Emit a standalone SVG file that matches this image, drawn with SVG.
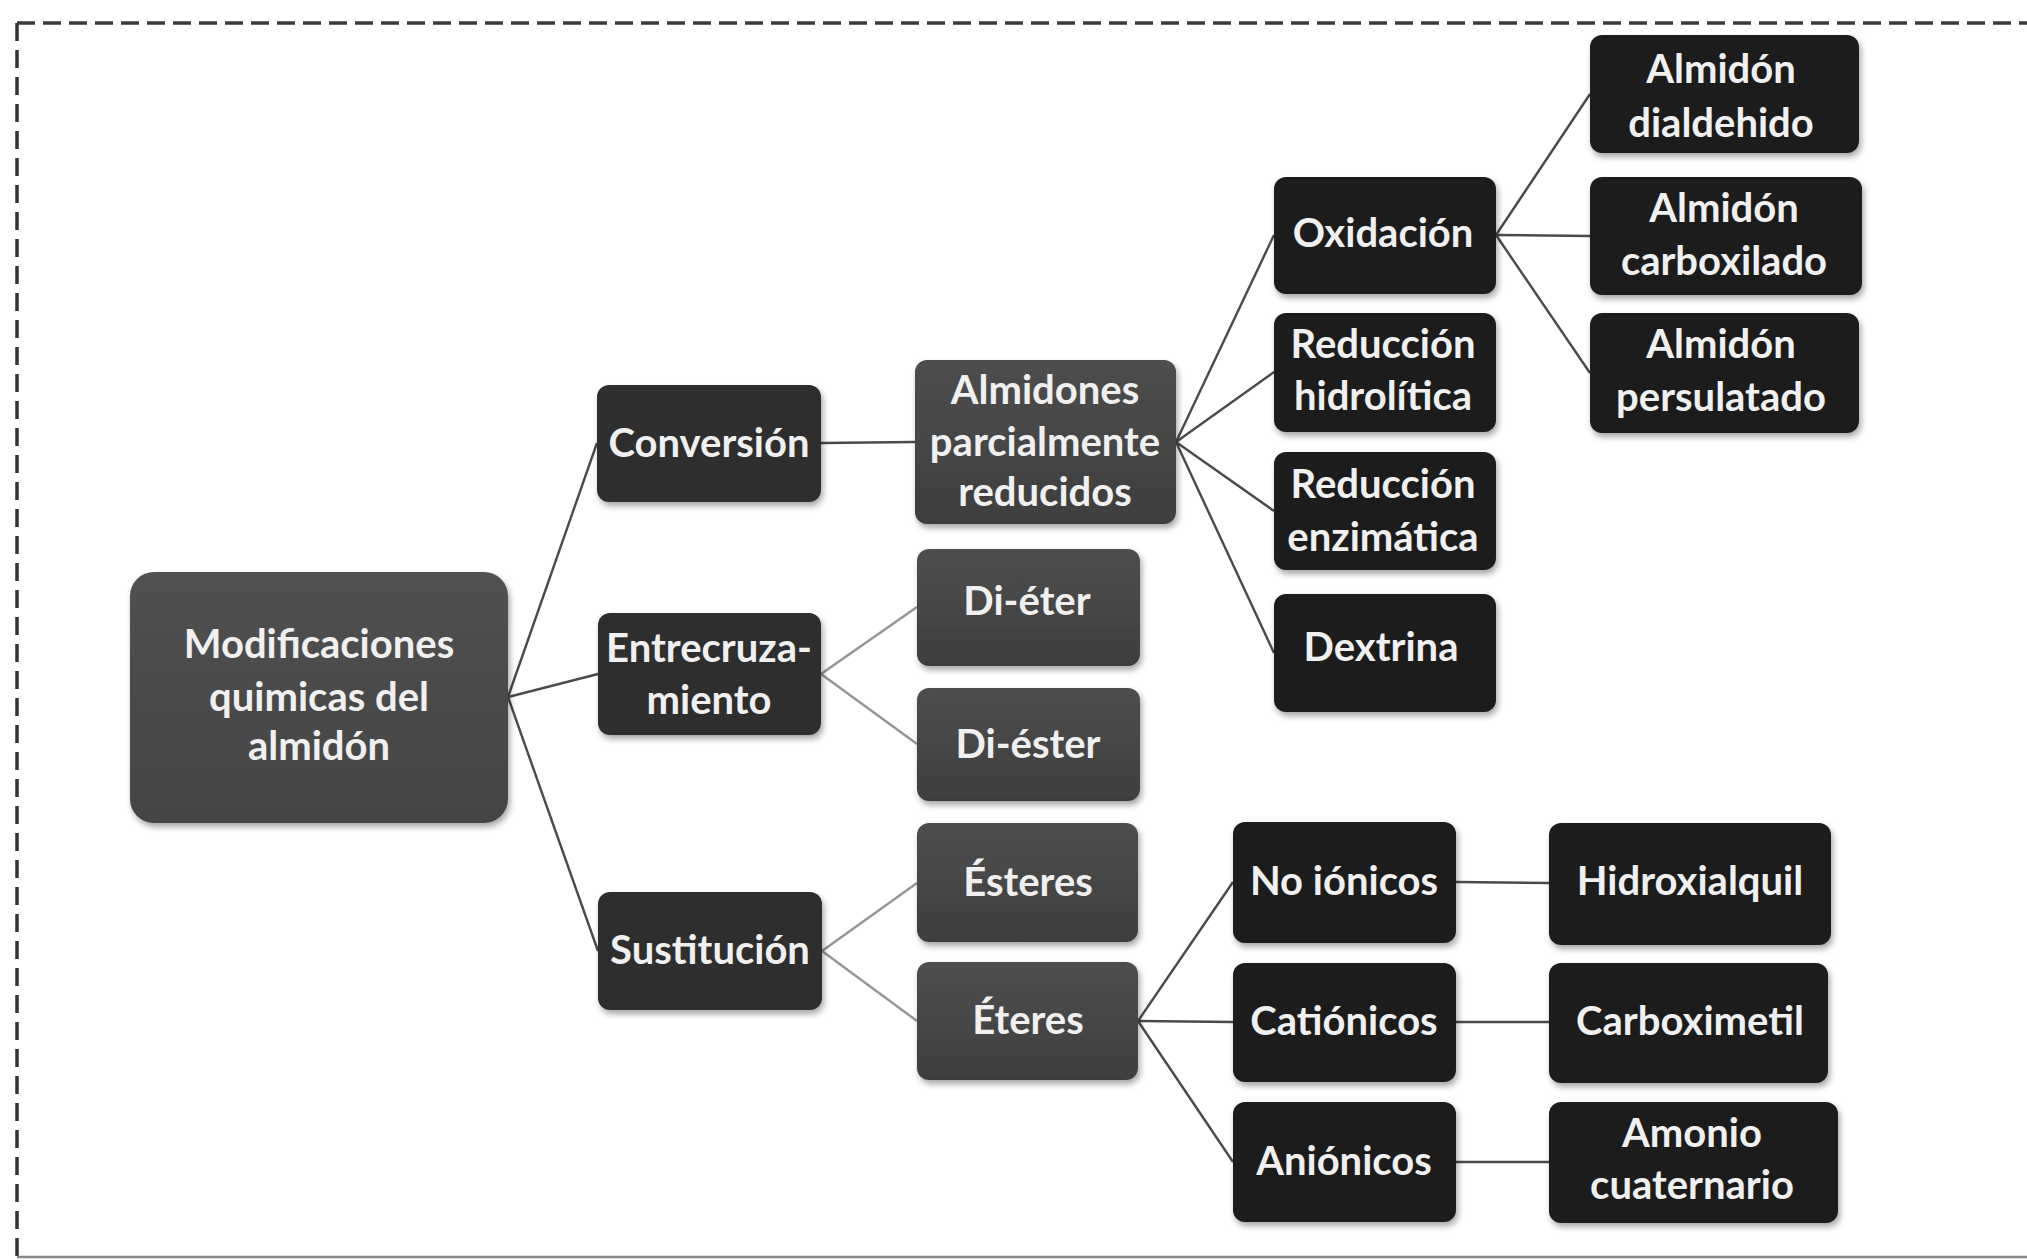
<svg xmlns="http://www.w3.org/2000/svg" width="2027" height="1260" viewBox="0 0 2027 1260">
<style>
  .n text { font-family: Lato, "Liberation Sans", sans-serif; font-size: 40px; font-weight: 700; fill: #f0f0f0; text-anchor: middle; }
  .n rect { filter: url(#sh); }
  .lv0 rect { fill: url(#gRoot); }
  .lv1 rect { fill: #2d2d2d; }
  .lv2 rect { fill: url(#gGray); }
  .lv3 rect { fill: #1b1b1b; }
  .c line { stroke: #4a4a4a; stroke-width: 2.4; }
  .c line.light { stroke: #959595; }
</style>
<defs>
  <filter id="sh" x="-10%" y="-10%" width="130%" height="130%">
    <feDropShadow dx="2" dy="4" stdDeviation="3" flood-color="#000" flood-opacity="0.35"/>
  </filter>
  <linearGradient id="gRoot" x1="0" y1="0" x2="0" y2="1">
    <stop offset="0" stop-color="#515151"/>
    <stop offset="1" stop-color="#444"/>
  </linearGradient>
  <linearGradient id="gGray" x1="0" y1="0" x2="0" y2="1">
    <stop offset="0" stop-color="#4e4e4e"/>
    <stop offset="1" stop-color="#3e3e3e"/>
  </linearGradient>
</defs>
<rect width="2027" height="1260" fill="#fff"/>
<g id="frame" fill="none">
  <line x1="17" y1="23" x2="2027" y2="23" stroke="#3a3a3a" stroke-width="3.5" stroke-dasharray="18 8"/>
  <line x1="17" y1="23" x2="17" y2="1257" stroke="#333" stroke-width="3.5" stroke-dasharray="18 9"/>
  <line x1="17" y1="1257" x2="2027" y2="1257" stroke="#888" stroke-width="2.5"/>
</g>
<g id="connectors" class="c">
  <line x1="508" y1="697" x2="597" y2="443"/>
  <line x1="508" y1="697" x2="598" y2="674"/>
  <line x1="508" y1="697" x2="598" y2="951"/>
  <line x1="821" y1="443" x2="915" y2="442"/>
  <line class="light" x1="821" y1="674" x2="917" y2="607"/>
  <line class="light" x1="821" y1="674" x2="917" y2="744"/>
  <line class="light" x1="822" y1="951" x2="917" y2="883"/>
  <line class="light" x1="822" y1="951" x2="917" y2="1021"/>
  <line x1="1176" y1="442" x2="1274" y2="235"/>
  <line x1="1176" y1="442" x2="1274" y2="372"/>
  <line x1="1176" y1="442" x2="1274" y2="511"/>
  <line x1="1176" y1="442" x2="1274" y2="653"/>
  <line x1="1496" y1="235" x2="1590" y2="94"/>
  <line x1="1496" y1="235" x2="1590" y2="236"/>
  <line x1="1496" y1="235" x2="1590" y2="373"/>
  <line x1="1138" y1="1021" x2="1233" y2="882"/>
  <line x1="1138" y1="1021" x2="1233" y2="1022"/>
  <line x1="1138" y1="1021" x2="1233" y2="1162"/>
  <line x1="1456" y1="882" x2="1549" y2="883"/>
  <line x1="1456" y1="1022" x2="1549" y2="1022"/>
  <line x1="1456" y1="1162" x2="1549" y2="1162"/>
</g>
<g id="root" class="n lv0"><rect x="130" y="572" width="378" height="251" rx="24"/>
  <text x="319" y="658">Modificaciones</text><text x="319" y="711">quimicas del</text><text x="319" y="760">almidón</text></g>
<g id="conversion" class="n lv1"><rect x="597" y="385" width="224" height="117" rx="12"/>
  <text x="709" y="457">Conversión</text></g>
<g id="entrecruzamiento" class="n lv1"><rect x="598" y="613" width="223" height="122" rx="12"/>
  <text x="709" y="662">Entrecruza-</text><text x="709" y="714">miento</text></g>
<g id="sustitucion" class="n lv1"><rect x="598" y="892" width="224" height="118" rx="12"/>
  <text x="710" y="964">Sustitución</text></g>
<g id="almidones" class="n lv2"><rect x="915" y="360" width="261" height="164" rx="12"/>
  <text x="1045" y="404">Almidones</text><text x="1045" y="456">parcialmente</text><text x="1045" y="506">reducidos</text></g>
<g id="dieter" class="n lv2"><rect x="917" y="549" width="223" height="117" rx="12"/>
  <text x="1027" y="615">Di-éter</text></g>
<g id="diester" class="n lv2"><rect x="917" y="688" width="223" height="113" rx="12"/>
  <text x="1028" y="758">Di-éster</text></g>
<g id="esteres" class="n lv2"><rect x="917" y="823" width="221" height="119" rx="12"/>
  <text x="1028" y="896">Ésteres</text></g>
<g id="eteres" class="n lv2"><rect x="917" y="962" width="221" height="118" rx="12"/>
  <text x="1028" y="1034">Éteres</text></g>
<g id="oxidacion" class="n lv3"><rect x="1274" y="177" width="222" height="117" rx="12"/>
  <text x="1383" y="247">Oxidación</text></g>
<g id="red-hidrolitica" class="n lv3"><rect x="1274" y="313" width="222" height="119" rx="12"/>
  <text x="1383" y="358">Reducción</text><text x="1383" y="410">hidrolítica</text></g>
<g id="red-enzimatica" class="n lv3"><rect x="1274" y="452" width="222" height="118" rx="12"/>
  <text x="1383" y="498">Reducción</text><text x="1383" y="551">enzimática</text></g>
<g id="dextrina" class="n lv3"><rect x="1274" y="594" width="222" height="118" rx="12"/>
  <text x="1381" y="661">Dextrina</text></g>
<g id="dialdehido" class="n lv3"><rect x="1590" y="35" width="269" height="118" rx="12"/>
  <text x="1721" y="83">Almidón</text><text x="1721" y="137">dialdehido</text></g>
<g id="carboxilado" class="n lv3"><rect x="1590" y="177" width="272" height="118" rx="12"/>
  <text x="1724" y="222">Almidón</text><text x="1724" y="275">carboxilado</text></g>
<g id="persulatado" class="n lv3"><rect x="1590" y="313" width="269" height="120" rx="12"/>
  <text x="1721" y="358">Almidón</text><text x="1721" y="411">persulatado</text></g>
<g id="no-ionicos" class="n lv3"><rect x="1233" y="822" width="223" height="121" rx="12"/>
  <text x="1344" y="895">No iónicos</text></g>
<g id="cationicos" class="n lv3"><rect x="1233" y="963" width="223" height="119" rx="12"/>
  <text x="1344" y="1035">Catiónicos</text></g>
<g id="anionicos" class="n lv3"><rect x="1233" y="1102" width="223" height="120" rx="12"/>
  <text x="1344" y="1175">Aniónicos</text></g>
<g id="hidroxialquil" class="n lv3"><rect x="1549" y="823" width="282" height="122" rx="12"/>
  <text x="1690" y="895">Hidroxialquil</text></g>
<g id="carboximetil" class="n lv3"><rect x="1549" y="963" width="279" height="120" rx="12"/>
  <text x="1690" y="1035">Carboximetil</text></g>
<g id="amonio" class="n lv3"><rect x="1549" y="1102" width="289" height="121" rx="12"/>
  <text x="1692" y="1147">Amonio</text><text x="1692" y="1199">cuaternario</text></g>
</svg>
